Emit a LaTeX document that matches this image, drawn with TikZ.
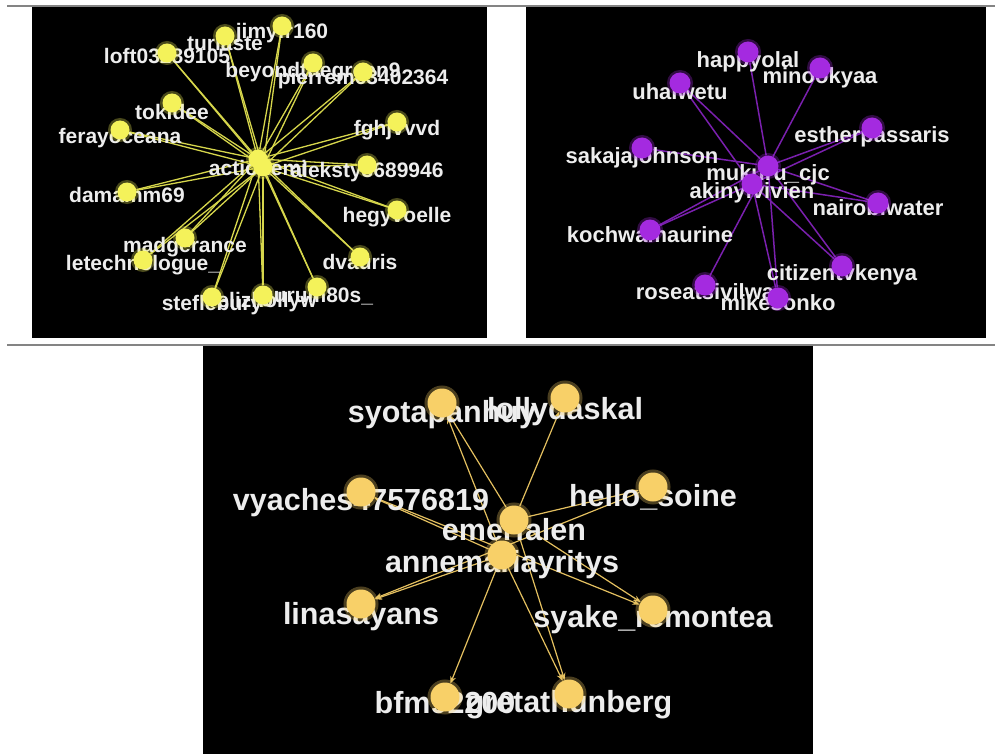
\documentclass[tikz,border=0pt]{standalone}
\usepackage{fontspec}
\setmainfont{Liberation Sans}
\usetikzlibrary{arrows.meta}
\definecolor{rulegray}{HTML}{848484}
\definecolor{yeldot}{HTML}{F4F25A}
\definecolor{yelline}{HTML}{D6D64C}
\definecolor{purdot}{HTML}{A42AE0}
\definecolor{purline}{HTML}{7A20AE}
\definecolor{golddot}{HTML}{F8D068}
\definecolor{goldline}{HTML}{E4C060}
\definecolor{lbl}{HTML}{EDEDED}
\pgfdeclarelayer{back}\pgfdeclarelayer{edges}\pgfdeclarelayer{text}
\pgfsetlayers{back,edges,text,main}
\tikzset{
  rule/.style={draw=rulegray,line width=2pt},
  yel/.style={circle,fill=yeldot,minimum size=19pt,inner sep=0pt,
    preaction={draw=yeldot,line width=5pt,draw opacity=0.3}},
  yeltxt/.style={text=lbl,inner sep=0pt,font=\fontsize{21}{21}\selectfont\bfseries},
  pur/.style={circle,fill=purdot,minimum size=21pt,inner sep=0pt,
    preaction={draw=purdot,line width=5pt,draw opacity=0.3}},
  purtxt/.style={text=lbl,inner sep=0pt,font=\fontsize{22}{22}\selectfont\bfseries},
  gold/.style={circle,fill=golddot,minimum size=29pt,inner sep=0pt,
    preaction={draw=golddot,line width=6pt,draw opacity=0.3}},
  goldtxt/.style={text=lbl,inner sep=0pt,font=\fontsize{30.5}{30.5}\selectfont\bfseries},
  yedge/.style={draw=yelline,line width=1.3pt},
  pedge/.style={draw=purline,line width=1.5pt},
  garr/.style={draw=goldline,line width=1.2pt,-{Stealth[length=7pt,width=6pt]}}
}
% dot, name, x, y, label offset, label
\newcommand{\usr}[6]{\node[#1] (#2) at (#3,#4) {};
  \begin{pgfonlayer}{text}\node[#1txt] (#2-l) at (#3,#4+#5) {#6};\end{pgfonlayer}}

\begin{document}
\begin{tikzpicture}[x=1pt,y=-1pt]
\useasboundingbox (0,0) rectangle (995,754);
\begin{pgfonlayer}{back}
\fill[black] (32,7) rectangle (487,338);
\fill[black] (526,7) rectangle (986,338);
\fill[black] (203,346) rectangle (813,754);
\draw[rule] (7,6) -- (995,6);
\draw[rule] (7,344.5) -- (995,344.5);
\end{pgfonlayer}

% left network
\usr{yel}{hubA}{258}{159}{9}{actionemi}
\usr{yel}{hubAb}{263}{167}{8}{}
\usr{yel}{jimy}{282}{26}{7}{jimyfr160}
\usr{yel}{turiste}{225}{36}{7}{turiaste}
\usr{yel}{loft}{167}{53}{3}{loft03289105}
\usr{yel}{beyond}{313}{63}{9}{beyondthegreen9}
\usr{yel}{pierre}{363}{72}{7}{pierrem63402364}
\usr{yel}{tokidee}{172}{103}{9}{tokidee}
\usr{yel}{feray}{120}{130}{8}{ferayoceana}
\usr{yel}{fghj}{397}{122}{8}{fghjvvvd}
\usr{yel}{damam}{127}{192}{3}{damamm69}
\usr{yel}{aleks}{367}{165}{7}{aleksty3689946}
\usr{yel}{hegy}{397}{210}{7}{hegyvoelle}
\usr{yel}{madg}{185}{238}{9}{madgerance}
\usr{yel}{letech}{143}{260}{5}{letechnologue\_}
\usr{yel}{dvauris}{360}{257}{5}{dvauris}
\usr{yel}{stef}{212}{297}{8}{steflebury}
\usr{yel}{reli}{263}{295}{7}{relizhollyw}
\usr{yel}{gurum}{317}{287}{10}{gurum80s\_}
\begin{pgfonlayer}{edges}
\foreach \n in {jimy,turiste,loft,beyond,pierre,tokidee,feray,fghj,damam,aleks,hegy,madg,letech,dvauris,stef,reli,gurum}
  {\draw[yedge] (hubA) -- (\n); \draw[yedge] (hubAb) -- (\n);}
\end{pgfonlayer}

% right network
\usr{pur}{mukuru}{768}{166}{9}{mukuru\_cjc}
\usr{pur}{akinyi}{752}{184}{9}{akinyivivien}
\usr{pur}{happyolal}{748}{52}{10}{happyolal}
\usr{pur}{minookyaa}{820}{68}{10}{minookyaa}
\usr{pur}{uhaiwetu}{680}{83}{9}{uhaiwetu}
\usr{pur}{esther}{872}{128}{9}{estherpassaris}
\usr{pur}{sakaja}{642}{148}{10}{sakajajohnson}
\usr{pur}{nairobi}{878}{203}{5}{nairobiwater}
\usr{pur}{kochwa}{650}{230}{5}{kochwamaurine}
\usr{pur}{citizen}{842}{266}{9}{citizentvkenya}
\usr{pur}{roseat}{705}{285}{7}{roseatsivilwa}
\usr{pur}{mikesonko}{778}{298}{5}{mikesonko}
\begin{pgfonlayer}{edges}
\foreach \n in {happyolal,minookyaa,uhaiwetu,esther,sakaja,nairobi,kochwa,citizen,roseat,mikesonko}
  \draw[pedge] (mukuru) -- (\n);
\foreach \n in {uhaiwetu,esther,nairobi,kochwa,citizen,mikesonko}
  \draw[pedge] (akinyi) -- (\n);
\end{pgfonlayer}

% bottom network
\usr{gold}{emerfalen}{514}{520}{10}{emerfalen}
\usr{gold}{annemaria}{502}{555}{10}{annemariayritys}
\usr{gold}{syota}{442}{403}{12}{syotapanhuy}
\usr{gold}{lolly}{565}{398}{14}{lollydaskal}
\usr{gold}{vyaches}{361}{492}{11}{vyaches47576819}
\usr{gold}{hello}{653}{487}{10}{hello\_soine}
\usr{gold}{linas}{361}{604}{13}{linasayans}
\usr{gold}{syake}{653}{610}{10}{syake\_remontea}
\usr{gold}{bfm}{445}{697}{6}{bfm92200}
\usr{gold}{greta}{569}{694}{11}{gretathunberg}
\begin{pgfonlayer}{edges}
\draw[garr] (emerfalen) -- (syota);
\draw[garr] (annemaria) -- (syota);
\draw[garr] (emerfalen) -- (lolly);
\draw[garr] (annemaria) -- (vyaches);
\draw[garr] (vyaches) -- (syake);
\draw[garr] (hello) -- (linas);
\draw[garr] (annemaria) -- (linas);
\draw[garr] (emerfalen) -- (syake);
\draw[garr] (annemaria) -- (bfm);
\draw[garr] (annemaria) -- (greta);
\draw[garr] (emerfalen) -- (greta);
\draw[garr] (emerfalen) -- (hello);
\end{pgfonlayer}
\end{tikzpicture}
\end{document}
